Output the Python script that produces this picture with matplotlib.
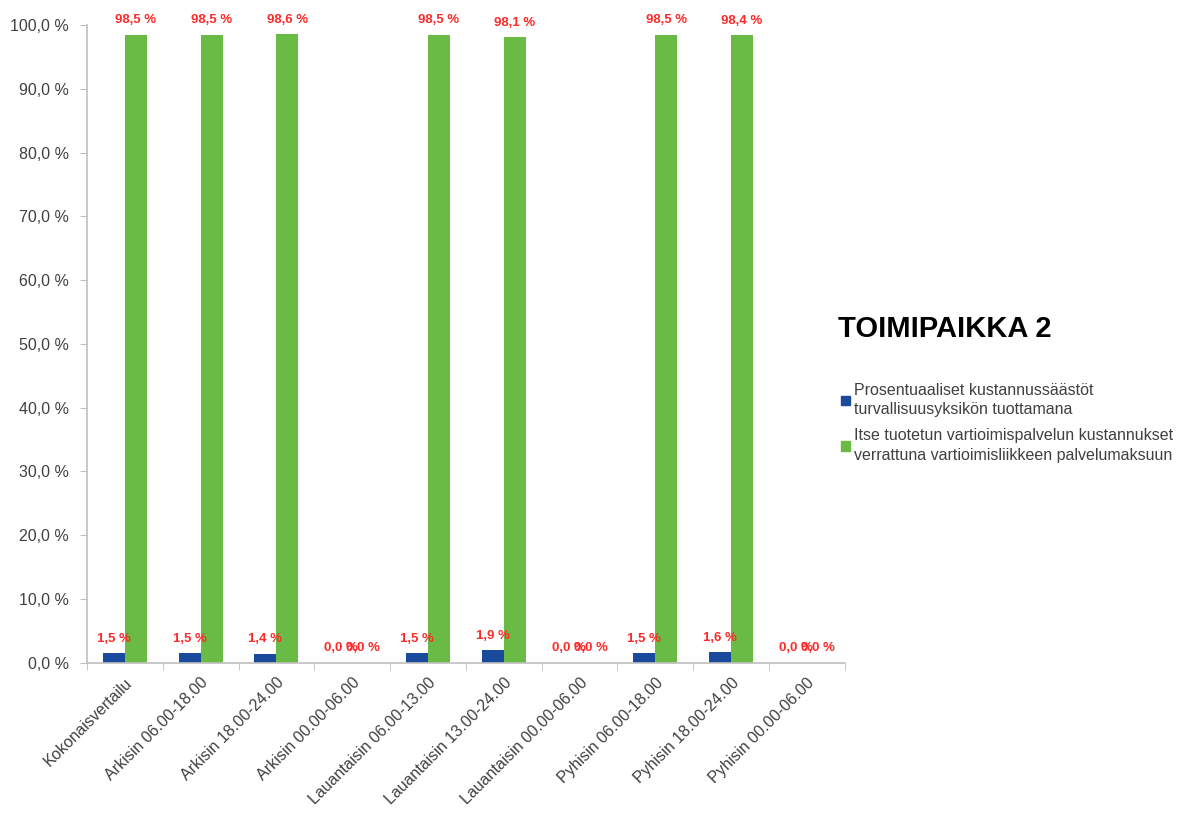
import matplotlib.pyplot as plt
import numpy as np
from matplotlib.patches import Patch

plt.rcParams['font.family'] = ['Liberation Sans', 'DejaVu Sans']

categories = ['Kokonaisvertailu', 'Arkisin 06.00-18.00', 'Arkisin 18.00-24.00',
              'Arkisin 00.00-06.00', 'Lauantaisin 06.00-13.00', 'Lauantaisin 13.00-24.00',
              'Lauantaisin 00.00-06.00', 'Pyhisin 06.00-18.00', 'Pyhisin 18.00-24.00',
              'Pyhisin 00.00-06.00']
savings = [1.5, 1.5, 1.4, 0.0, 1.5, 1.9, 0.0, 1.5, 1.6, 0.0]
costs = [98.5, 98.5, 98.6, 0.0, 98.5, 98.1, 0.0, 98.5, 98.4, 0.0]
series_names = ['Prosentuaaliset kustannussäästöt\nturvallisuusyksikön tuottamana',
                'Itse tuotetun vartioimispalvelun kustannukset\nverrattuna vartioimisliikkeen palvelumaksuun']
title = 'TOIMIPAIKKA 2'

blue = '#1a4a9c'
green = '#6abb45'
red = '#ff2a2a'
axis_grey = '#bfbfbf'
text_grey = '#404040'

fig = plt.figure(figsize=(11.84, 8.14), dpi=100)
ax = fig.add_axes([0.0735, 0.186, 0.64, 0.783])

x = np.arange(len(categories))
w = 0.29
ax.bar(x - w / 2, savings, w, color=blue)
ax.bar(x + w / 2, costs, w, color=green)

def fmt(v):
    return ('%.1f %%' % v).replace('.', ',')

# value labels, red bold above each bar
for xi, v in zip(x, savings):
    ax.annotate(fmt(v), (xi - w / 2, v), xytext=(0, 6), textcoords='offset points',
                ha='center', va='bottom', color=red, fontsize=9.5, fontweight='bold')
for xi, v in zip(x, costs):
    ax.annotate(fmt(v), (xi + w / 2, v), xytext=(0, 6), textcoords='offset points',
                ha='center', va='bottom', color=red, fontsize=9.5, fontweight='bold')

ax.set_xlim(-0.5, len(categories) - 0.5)
ax.set_ylim(0, 100)
ax.set_yticks(np.arange(0, 101, 10))
ax.set_yticklabels([fmt(t) for t in np.arange(0, 101, 10)], fontsize=11.5, color=text_grey)
ax.set_xticks(x)
ax.set_xticklabels(categories, rotation=45, ha='right', rotation_mode='anchor',
                   fontsize=11.5, color=text_grey)
ax.tick_params(axis='x', length=0, pad=9)
ax.set_xticks(np.arange(-0.5, len(categories)), minor=True)
ax.tick_params(axis='x', which='minor', length=5, color=axis_grey)
ax.tick_params(axis='y', length=5, color=axis_grey, pad=8)

for s in ['top', 'right']:
    ax.spines[s].set_visible(False)
for s in ['left', 'bottom']:
    ax.spines[s].set_color(axis_grey)
    ax.spines[s].set_linewidth(1.2)

fig.text(0.708, 0.596, title, fontsize=21, fontweight='bold', color='black', va='center')

handles = [Patch(color=blue), Patch(color=green)]
leg = fig.legend(handles, series_names, loc='upper left', bbox_to_anchor=(0.698, 0.547),
                 frameon=False, fontsize=11.5, handlelength=0.55, handleheight=0.55,
                 handletextpad=0.3, labelspacing=0.7, labelcolor=text_grey)
for t in leg.get_texts():
    t.set_linespacing(1.35)

fig.savefig('out.png', dpi=100)
